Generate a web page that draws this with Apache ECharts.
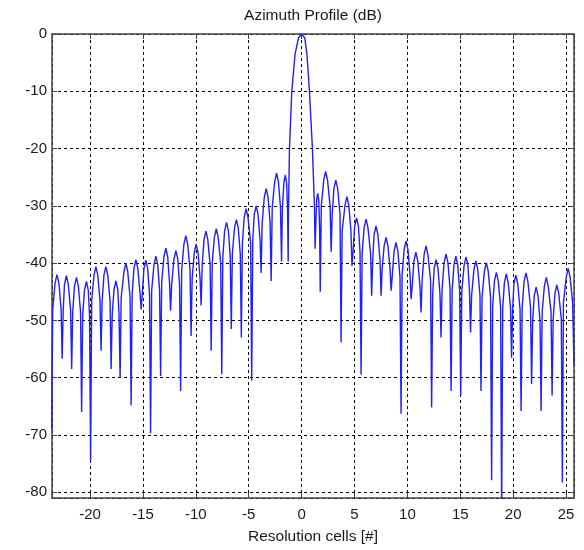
<!DOCTYPE html>
<html>
<head>
<meta charset="utf-8">
<script src="https://cdn.jsdelivr.net/npm/echarts@6/dist/echarts.min.js"></script>
<style>
  html, body { margin: 0; padding: 0; background: #fff; }
  #chart { width: 584px; height: 550px; }
</style>
</head>
<body>
<div id="chart"></div>
<script>
// azimuth profile: [resolution cell, dB]
const leftLobes = [
  [-23.63, -69],
  [-23.53, -48], [-23.31, -43.5], [-23.13, -42.0], [-22.95, -43.5], [-22.74, -48],
  [-22.64, -56.7],
  [-22.54, -48.2], [-22.42, -43.7], [-22.24, -42.2], [-22.06, -43.7], [-21.84, -48.2],
  [-21.74, -58.5],
  [-21.64, -48.5], [-21.47, -44], [-21.29, -42.5], [-21.11, -44], [-20.9, -48.5],
  [-20.8, -66],
  [-20.7, -49.2], [-20.53, -44.7], [-20.35, -43.2], [-20.17, -44.7], [-20.05, -49.2],
  [-19.95, -74.5],
  [-19.85, -46.6], [-19.63, -42.1], [-19.45, -40.6], [-19.27, -42.1], [-19.06, -46.6],
  [-18.96, -55.3],
  [-18.86, -46.6], [-18.69, -42.1], [-18.51, -40.6], [-18.33, -42.1], [-18.11, -46.6],
  [-18.01, -58.5],
  [-17.91, -49.1], [-17.74, -44.6], [-17.56, -43.1], [-17.38, -44.6], [-17.26, -49.1],
  [-17.16, -60],
  [-17.06, -46], [-16.8, -41.5], [-16.62, -40], [-16.44, -41.5], [-16.22, -46],
  [-16.12, -64.8],
  [-16.02, -45.4], [-15.85, -40.9], [-15.67, -39.4], [-15.49, -40.9], [-15.27, -45.4],
  [-15.17, -48.1],
  [-15.07, -45.5], [-14.91, -41], [-14.73, -39.5], [-14.55, -41], [-14.38, -45.5],
  [-14.28, -69.7],
  [-14.18, -44.8], [-13.96, -40.3], [-13.78, -38.8], [-13.6, -40.3], [-13.43, -44.8],
  [-13.33, -59.7],
  [-13.23, -43.4], [-13.02, -38.9], [-12.84, -37.4], [-12.66, -38.9], [-12.49, -43.4],
  [-12.39, -48.3],
  [-12.29, -43.8], [-12.07, -39.3], [-11.89, -37.8], [-11.71, -39.3], [-11.54, -43.8],
  [-11.44, -62.3],
  [-11.34, -41.2], [-11.13, -36.7], [-10.95, -35.2], [-10.77, -36.7], [-10.55, -41.2],
  [-10.45, -52.7],
  [-10.35, -42.7], [-10.15, -38.2], [-9.97, -36.7], [-9.79, -38.2], [-9.6, -42.7],
  [-9.5, -47.4],
  [-9.4, -40.4], [-9.23, -35.9], [-9.05, -34.4], [-8.87, -35.9], [-8.65, -40.4],
  [-8.55, -55.3],
  [-8.45, -40], [-8.25, -35.5], [-8.07, -34], [-7.89, -35.5], [-7.65, -40],
  [-7.55, -59.4],
  [-7.45, -38.9], [-7.28, -34.4], [-7.1, -32.9], [-6.92, -34.4], [-6.75, -38.9],
  [-6.65, -51.5],
  [-6.55, -38.4], [-6.35, -33.9], [-6.17, -32.4], [-5.99, -33.9], [-5.8, -38.4],
  [-5.7, -53],
  [-5.6, -36.5], [-5.43, -32], [-5.25, -30.5], [-5.07, -32], [-4.82, -36.5],
  [-4.72, -60.5],
  [-4.62, -36], [-4.48, -31.5], [-4.3, -30], [-4.12, -31.5], [-3.93, -36],
  [-3.83, -41.7],
  [-3.73, -33], [-3.53, -28.5], [-3.35, -27], [-3.17, -28.5], [-2.98, -33],
  [-2.88, -43.1],
  [-2.78, -30.3], [-2.55, -25.8], [-2.37, -24.3], [-2.19, -25.8], [-2.0, -30.3],
  [-1.9, -39.7],
  [-1.82, -30.6], [-1.68, -26], [-1.55, -24.6], [-1.42, -26], [-1.33, -30.6],
  [-1.27, -39.7]
];

const mainLobe = [
  [-1.25, -32], [-1.15, -20], [-0.93, -10], [-0.62, -3.5], [-0.3, -0.7], [0, 0],
  [0.3, -0.7], [0.5, -3.5], [0.74, -10], [1.02, -20], [1.21, -30], [1.27, -37.5]
];

const rightLobes = [
  [1.33, -33.8], [1.42, -29], [1.52, -27.8], [1.62, -29], [1.7, -33.8],
  [1.76, -45],
  [1.86, -30], [2.09, -25.5], [2.27, -24], [2.45, -25.5], [2.69, -30],
  [2.79, -38],
  [2.89, -31.5], [3.05, -27], [3.23, -25.5], [3.41, -27], [3.63, -31.5],
  [3.73, -53.8],
  [3.83, -34.4], [4.1, -29.9], [4.28, -28.4], [4.46, -29.9], [4.66, -34.4],
  [4.76, -40.5],
  [4.86, -38.1], [5.01, -33.6], [5.19, -32.1], [5.37, -33.6], [5.52, -38.1],
  [5.62, -59.5],
  [5.72, -38.3], [5.91, -33.8], [6.09, -32.3], [6.27, -33.8], [6.52, -38.3],
  [6.62, -45.7],
  [6.72, -39.5], [6.85, -35], [7.03, -33.5], [7.21, -35], [7.41, -39.5],
  [7.51, -45.7],
  [7.61, -41], [7.8, -37], [7.98, -35.5], [8.16, -37], [8.36, -41],
  [8.46, -44.8],
  [8.56, -42.4], [8.74, -37.9], [8.92, -36.4], [9.1, -37.9], [9.3, -42.4],
  [9.4, -66.3],
  [9.5, -42.1], [9.69, -37.6], [9.87, -36.1], [10.05, -37.6], [10.25, -42.1],
  [10.35, -46.3],
  [10.45, -44.1], [10.62, -39.6], [10.8, -38.1], [10.98, -39.6], [11.19, -44.1],
  [11.29, -48.6],
  [11.39, -43], [11.58, -38.5], [11.76, -37], [11.94, -38.5], [12.19, -43],
  [12.29, -65.2],
  [12.39, -45.4], [12.53, -40.9], [12.71, -39.4], [12.89, -40.9], [13.08, -45.4],
  [13.18, -53],
  [13.28, -44.4], [13.47, -39.9], [13.65, -38.4], [13.83, -39.9], [14.03, -44.4],
  [14.13, -62.3],
  [14.23, -44.8], [14.4, -40.3], [14.58, -38.8], [14.76, -40.3], [14.94, -44.8],
  [15.04, -63.1],
  [15.14, -44.9], [15.36, -40.4], [15.54, -38.9], [15.72, -40.4], [15.87, -44.9],
  [15.97, -52.1],
  [16.07, -45.6], [16.29, -41.1], [16.47, -39.6], [16.65, -41.1], [16.86, -45.6],
  [16.96, -62.3],
  [17.06, -45.9], [17.28, -41.4], [17.46, -39.9], [17.64, -41.4], [17.86, -45.9],
  [17.96, -77.9],
  [18.06, -47.6], [18.23, -43.1], [18.41, -41.6], [18.59, -43.1], [18.81, -47.6],
  [18.91, -84],
  [19.01, -47.9], [19.17, -43.4], [19.35, -41.9], [19.53, -43.4], [19.75, -47.9],
  [19.85, -56.5],
  [19.95, -48.1], [20.07, -43.6], [20.25, -42.1], [20.43, -43.6], [20.65, -48.1],
  [20.75, -65.8],
  [20.85, -47.7], [21.03, -43.2], [21.21, -41.7], [21.39, -43.2], [21.64, -47.7],
  [21.74, -61.1],
  [21.84, -50.2], [21.99, -45.7], [22.17, -44.2], [22.35, -45.7], [22.54, -50.2],
  [22.64, -65.8],
  [22.74, -48.5], [22.95, -44], [23.13, -42.5], [23.31, -44], [23.58, -48.5],
  [23.68, -63.1],
  [23.78, -49.8], [23.95, -45.3], [24.13, -43.8], [24.31, -45.3], [24.55, -49.8],
  [24.65, -78.3],
  [24.75, -46.9], [25.02, -42.4], [25.2, -40.9], [25.38, -42.4], [25.62, -46.9],
  [25.75, -57.8]
];

const xRange = [-23.6, 25.75];
const yRange = [-81, 0];

const FONT = 'Liberation Sans, Arial, sans-serif';
const TEXT = '#1a1a1a';
const FRAME = '#444';

const chart = echarts.init(document.getElementById('chart'));

// only label the 5 / 10 steps, not the axis ends
function tickLabel(step) {
  return v => (Math.abs(v / step - Math.round(v / step)) < 1e-6 ? String(v) : '');
}

const frameAxis = {
  type: 'value',
  axisLine: { show: true, onZero: false, lineStyle: { color: FRAME, width: 1.5 } },
  axisTick: { show: true, inside: true, length: 5, lineStyle: { color: FRAME } },
  axisLabel: { show: false },
  splitLine: { show: false }
};

chart.setOption({
  animation: false,
  backgroundColor: '#fff',
  grid: { left: 52, right: 10, top: 34, bottom: 49, containLabel: false },
  xAxis: [
    {
      type: 'value',
      min: xRange[0],
      max: xRange[1],
      splitNumber: 10,
      minInterval: 5,
      maxInterval: 5,
      name: 'Resolution cells [#]',
      nameLocation: 'middle',
      nameGap: 31,
      nameTextStyle: { fontFamily: FONT, fontSize: 15.5, color: TEXT },
      axisLine: { show: true, onZero: false, lineStyle: { color: FRAME, width: 1.5 } },
      axisTick: { show: true, inside: true, length: 5, lineStyle: { color: FRAME } },
      axisLabel: { margin: 9, fontFamily: FONT, fontSize: 15, color: TEXT, formatter: tickLabel(5) },
      splitLine: { show: true, lineStyle: { color: '#000', width: 1, type: [3, 3] } }
    },
    Object.assign({}, frameAxis, {
      position: 'top',
      min: xRange[0],
      max: xRange[1],
      splitNumber: 10,
      minInterval: 5,
      maxInterval: 5,
      name: 'Azimuth Profile (dB)',
      nameLocation: 'middle',
      nameGap: 10,
      nameTextStyle: { fontFamily: FONT, fontSize: 15.5, color: TEXT }
    })
  ],
  yAxis: [
    {
      type: 'value',
      min: yRange[0],
      max: yRange[1],
      splitNumber: 8,
      minInterval: 10,
      maxInterval: 10,
      axisLine: { show: true, onZero: false, lineStyle: { color: FRAME, width: 1.5 } },
      axisTick: { show: true, inside: true, length: 5, lineStyle: { color: FRAME } },
      axisLabel: { margin: 5, fontFamily: FONT, fontSize: 15, color: TEXT, formatter: tickLabel(10) },
      splitLine: { show: true, lineStyle: { color: '#000', width: 1, type: [3, 3] } }
    },
    Object.assign({}, frameAxis, {
      position: 'right',
      min: yRange[0],
      max: yRange[1],
      splitNumber: 8,
      minInterval: 10,
      maxInterval: 10
    })
  ],
  series: [{
    type: 'line',
    xAxisIndex: 0,
    yAxisIndex: 0,
    data: leftLobes.concat(mainLobe, rightLobes),
    showSymbol: false,
    symbol: 'none',
    clip: true,
    lineStyle: { color: '#1f1fff', width: 1.4 }
  }]
});
</script>
</body>
</html>
